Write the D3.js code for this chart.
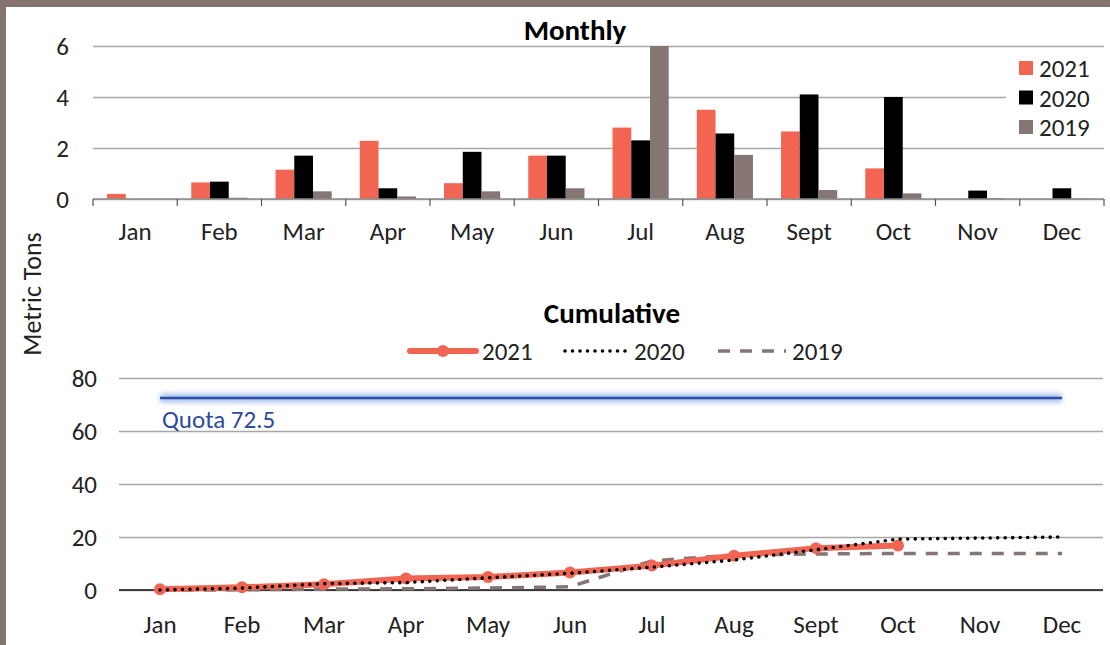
<!DOCTYPE html>
<html>
<head>
<meta charset="utf-8">
<script src="https://cdn.jsdelivr.net/npm/d3@7"></script>
<style>
  body { margin: 0; background: #fff; }
  svg text { font-family: Carlito, Calibri, Lato, sans-serif; }
</style>
</head>
<body>
<div id="chart"></div>
<script>
var months = ["Jan", "Feb", "Mar", "Apr", "May", "Jun", "Jul", "Aug", "Sept", "Oct", "Nov", "Dec"];
var years = ["2021", "2020", "2019"];

// monthly tonnage (Jul 2019 runs off the top of the axis)
var monthly2021 = [0.2, 0.65, 1.15, 2.28, 0.62, 1.7, 2.8, 3.5, 2.65, 1.2, null, null];
var monthly2020 = [0, 0.68, 1.7, 0.42, 1.85, 1.7, 2.3, 2.57, 4.1, 4.0, 0.33, 0.42];
var monthly2019 = [0, 0.05, 0.3, 0.1, 0.3, 0.42, 9.8, 1.73, 0.35, 0.22, 0.03, 0.02];

// cumulative tonnage
var cumul2021 = [0.3, 1.0, 2.2, 4.3, 4.9, 6.6, 9.2, 12.9, 15.8, 16.8];
var cumul2020 = [0, 0.7, 2.4, 2.8, 4.6, 6.3, 8.6, 11.3, 15.2, 19.2, 19.6, 20.0];
var cumul2019 = [0, 0.05, 0.35, 0.45, 0.75, 1.2, 11.0, 13.2, 13.6, 13.8, 13.8, 13.8];

var quota = 72.5;
var monthlyTicks = [0, 2, 4, 6];
var cumulTicks = [0, 20, 40, 60, 80];

var colors = { "2021": "#f16552", "2020": "#000000", "2019": "#857573" };

var width = 1110, height = 645;
var fs = "25px", titleFs = "29px";

var svg = d3.select("#chart").append("svg")
    .attr("width", width)
    .attr("height", height);
var defs = svg.append("defs");

// frame
svg.append("rect").attr("width", width).attr("height", height).attr("fill", "#857371");
svg.append("rect").attr("x", 6).attr("y", 7).attr("width", width).attr("height", height).attr("fill", "#fff");

svg.append("text")
    .attr("transform", "translate(41,294) rotate(-90)")
    .attr("text-anchor", "middle")
    .style("font-size", "26px")
    .attr("fill", "#222")
    .text("Metric Tons");

// ---------- Monthly ----------
var top1 = 46, bot1 = 199, left1 = 93, right1 = 1104;

var x1 = d3.scaleBand().domain(months).range([left1, right1]);
var xg = d3.scaleBand().domain(years).range([0, x1.bandwidth()]).paddingInner(0).paddingOuter(0.75);
var y1 = d3.scaleLinear().domain([0, 6]).range([bot1, top1]);

svg.append("text")
    .attr("x", 575).attr("y", 40)
    .attr("text-anchor", "middle")
    .style("font-size", titleFs).style("font-weight", "bold")
    .text("Monthly");

var gy1 = svg.append("g")
    .attr("transform", "translate(" + left1 + ",0)")
    .call(d3.axisLeft(y1).tickValues(monthlyTicks).tickSize(-(right1 - left1)).tickFormat(d3.format("d")));
gy1.select(".domain").remove();
gy1.selectAll(".tick line").attr("stroke", "#a6a6a6").attr("stroke-width", 1.3);
gy1.selectAll(".tick text").attr("x", -24).style("font-size", fs).attr("fill", "#222");

defs.append("clipPath").attr("id", "clip1")
  .append("rect").attr("x", left1).attr("y", top1).attr("width", right1 - left1).attr("height", bot1 - top1);

var series = [
  { key: "2021", values: monthly2021 },
  { key: "2020", values: monthly2020 },
  { key: "2019", values: monthly2019 }
];

var bars = svg.append("g").attr("clip-path", "url(#clip1)");
series.forEach(function(s) {
  bars.selectAll(null)
    .data(s.values.map(function(v, i) { return { m: months[i], v: v }; }).filter(function(d) { return d.v != null; }))
    .enter().append("rect")
      .attr("x", function(d) { return x1(d.m) + xg(s.key); })
      .attr("width", xg.bandwidth())
      .attr("y", function(d) { return y1(d.v); })
      .attr("height", function(d) { return bot1 - y1(d.v); })
      .attr("fill", colors[s.key]);
});

// category axis with ticks between months
svg.append("line")
    .attr("x1", left1).attr("x2", right1).attr("y1", bot1).attr("y2", bot1)
    .attr("stroke", "#8c8c8c").attr("stroke-width", 1.3);
var edges = months.map(function(m) { return x1(m); }).concat([right1]);
svg.selectAll(null).data(edges).enter().append("line")
    .attr("x1", function(d) { return d; }).attr("x2", function(d) { return d; })
    .attr("y1", bot1).attr("y2", bot1 + 7)
    .attr("stroke", "#555").attr("stroke-width", 1.2);
svg.selectAll(null).data(months).enter().append("text")
    .attr("x", function(d) { return x1(d) + x1.bandwidth() / 2; })
    .attr("y", 240)
    .attr("text-anchor", "middle")
    .style("font-size", fs).attr("fill", "#222")
    .text(function(d) { return d; });

// monthly legend
var leg1 = svg.append("g");
leg1.append("rect").attr("x", 1006).attr("y", 52).attr("width", 98).attr("height", 90).attr("fill", "#fff");
years.forEach(function(k, i) {
  var cy = 68 + i * 29.5;
  leg1.append("rect").attr("x", 1019).attr("y", cy - 7).attr("width", 14).attr("height", 14).attr("fill", colors[k]);
  leg1.append("text").attr("x", 1039).attr("y", cy + 9).style("font-size", fs).attr("fill", "#222").text(k);
});

// ---------- Cumulative ----------
var top2 = 378, bot2 = 590, left2 = 119, right2 = 1103;

var x2 = d3.scalePoint().domain(months).range([left2, right2]).padding(0.5);
var y2 = d3.scaleLinear().domain([0, 80]).range([bot2, top2]);

svg.append("text")
    .attr("x", 612).attr("y", 323)
    .attr("text-anchor", "middle")
    .style("font-size", titleFs).style("font-weight", "bold")
    .text("Cumulative");

var gy2 = svg.append("g")
    .attr("transform", "translate(" + left2 + ",0)")
    .call(d3.axisLeft(y2).tickValues(cumulTicks).tickSize(-(right2 - left2)));
gy2.select(".domain").remove();
gy2.selectAll(".tick line").attr("stroke", "#a6a6a6").attr("stroke-width", 1.3);
gy2.selectAll(".tick text").attr("x", -22).style("font-size", fs).attr("fill", "#222");

svg.append("line")
    .attr("x1", left2).attr("x2", right2).attr("y1", bot2).attr("y2", bot2)
    .attr("stroke", "#111").attr("stroke-width", 1.3);
svg.selectAll(null).data(months).enter().append("text")
    .attr("x", function(d) { return x2(d); })
    .attr("y", 633)
    .attr("text-anchor", "middle")
    .style("font-size", fs).attr("fill", "#222")
    .text(function(d) { return d; });

// quota line with soft glow
var qy = y2(quota);
var glow = defs.append("filter").attr("id", "glow")
    .attr("filterUnits", "userSpaceOnUse")
    .attr("x", left2).attr("y", qy - 20).attr("width", right2 - left2).attr("height", 40);
glow.append("feGaussianBlur").attr("stdDeviation", 2.5);
svg.append("line")
    .attr("x1", x2("Jan")).attr("x2", x2("Dec")).attr("y1", qy).attr("y2", qy)
    .attr("stroke", "#a9c2ee").attr("stroke-width", 9).attr("filter", "url(#glow)");
svg.append("line")
    .attr("x1", x2("Jan")).attr("x2", x2("Dec")).attr("y1", qy).attr("y2", qy)
    .attr("stroke", "#2b4fa3").attr("stroke-width", 2.5);
svg.append("text")
    .attr("x", 162).attr("y", qy + 30)
    .style("font-size", fs).attr("fill", "#2e4a9b")
    .text("Quota " + quota);

var line = d3.line()
    .x(function(d, i) { return x2(months[i]); })
    .y(function(d) { return y2(d); });

svg.append("path").datum(cumul2019)
    .attr("d", line).attr("fill", "none")
    .attr("stroke", colors["2019"]).attr("stroke-width", 3.5)
    .attr("stroke-dasharray", "12,10");

svg.append("path").datum(cumul2021)
    .attr("d", line).attr("fill", "none")
    .attr("stroke", colors["2021"]).attr("stroke-width", 6)
    .attr("stroke-linejoin", "round").attr("stroke-linecap", "round");
svg.selectAll(null).data(cumul2021).enter().append("circle")
    .attr("cx", function(d, i) { return x2(months[i]); })
    .attr("cy", function(d) { return y2(d); })
    .attr("r", 6)
    .attr("fill", colors["2021"]);

svg.append("path").datum(cumul2020)
    .attr("d", line).attr("fill", "none")
    .attr("stroke", colors["2020"]).attr("stroke-width", 3.6)
    .attr("stroke-linecap", "round")
    .attr("stroke-dasharray", "0,7.5");

// cumulative legend
var leg2 = svg.append("g");
var ly = 351;
leg2.append("line").attr("x1", 410).attr("x2", 476).attr("y1", ly).attr("y2", ly)
    .attr("stroke", colors["2021"]).attr("stroke-width", 6).attr("stroke-linecap", "round");
leg2.append("circle").attr("cx", 443).attr("cy", ly).attr("r", 6).attr("fill", colors["2021"]);
leg2.append("text").attr("x", 482).attr("y", ly + 9).style("font-size", fs).attr("fill", "#222").text("2021");

leg2.append("line").attr("x1", 565).attr("x2", 628).attr("y1", ly).attr("y2", ly)
    .attr("stroke", colors["2020"]).attr("stroke-width", 3.6)
    .attr("stroke-linecap", "round").attr("stroke-dasharray", "0,7.5");
leg2.append("text").attr("x", 634).attr("y", ly + 9).style("font-size", fs).attr("fill", "#222").text("2020");

leg2.append("line").attr("x1", 718).attr("x2", 786).attr("y1", ly).attr("y2", ly)
    .attr("stroke", colors["2019"]).attr("stroke-width", 3.5).attr("stroke-dasharray", "12,10");
leg2.append("text").attr("x", 792).attr("y", ly + 9).style("font-size", fs).attr("fill", "#222").text("2019");
</script>
</body>
</html>
